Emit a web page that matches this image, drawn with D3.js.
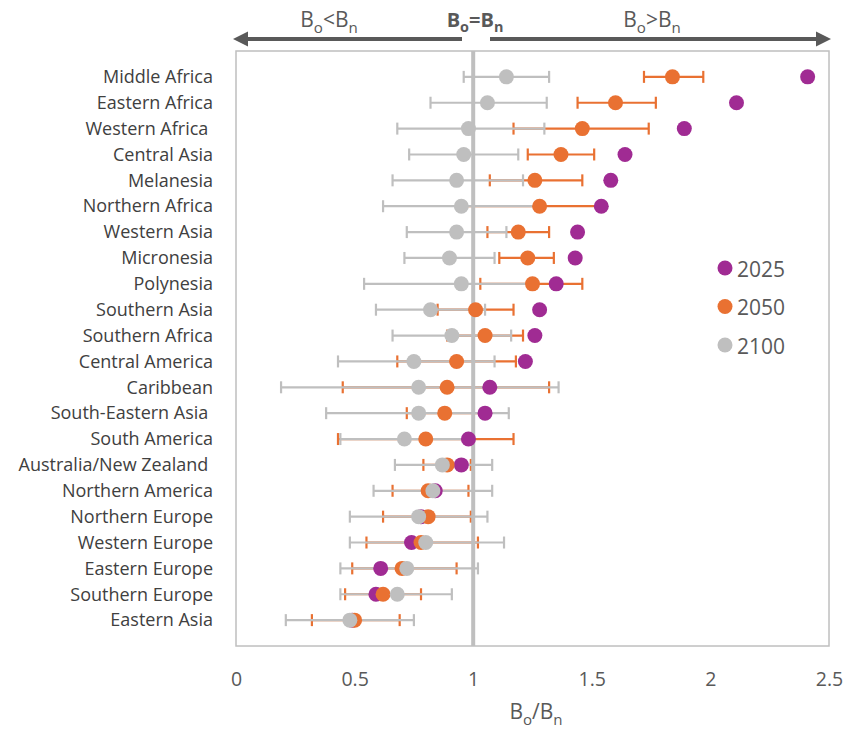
<!DOCTYPE html>
<html>
<head>
<meta charset="utf-8">
<script src="https://cdn.jsdelivr.net/npm/d3@7"></script>
<style>
  body { margin: 0; background: #fff; }
  svg text { font-family: "Open Sans", "Noto Sans", sans-serif; }
</style>
</head>
<body>
<div id="chart"></div>
<script>
// regions, top to bottom (trailing spaces are in the original labels)
var regions = ["Middle Africa", "Eastern Africa", "Western Africa ", "Central Asia", "Melanesia",
    "Northern Africa", "Western Asia", "Micronesia", "Polynesia", "Southern Asia", "Southern Africa",
    "Central America", "Caribbean", "South-Eastern Asia ", "South America", "Australia/New Zealand ",
    "Northern America", "Northern Europe", "Western Europe", "Eastern Europe", "Southern Europe", "Eastern Asia"];

var v2025 = [2.41, 2.11, 1.89, 1.64, 1.58, 1.54, 1.44, 1.43, 1.35, 1.28, 1.26,
    1.22, 1.07, 1.05, 0.98, 0.95, 0.84, 0.78, 0.74, 0.61, 0.59, 0.49];

var v2050 = [1.84, 1.60, 1.46, 1.37, 1.26, 1.28, 1.19, 1.23, 1.25, 1.01, 1.05,
    0.93, 0.89, 0.88, 0.80, 0.89, 0.81, 0.81, 0.78, 0.70, 0.62, 0.50];
var lo2050 = [1.72, 1.44, 1.17, 1.23, 1.07, 0.95, 1.06, 1.11, 1.03, 0.85, 0.89,
    0.68, 0.45, 0.72, 0.43, 0.79, 0.66, 0.62, 0.55, 0.49, 0.46, 0.32];
var hi2050 = [1.97, 1.77, 1.74, 1.51, 1.46, 1.55, 1.32, 1.34, 1.46, 1.17, 1.21,
    1.18, 1.32, 1.05, 1.17, 0.99, 0.98, 0.99, 1.02, 0.93, 0.78, 0.69];

var v2100 = [1.14, 1.06, 0.98, 0.96, 0.93, 0.95, 0.93, 0.90, 0.95, 0.82, 0.91,
    0.75, 0.77, 0.77, 0.71, 0.87, 0.83, 0.77, 0.80, 0.72, 0.68, 0.48];
var lo2100 = [0.96, 0.82, 0.68, 0.73, 0.66, 0.62, 0.72, 0.71, 0.54, 0.59, 0.66,
    0.43, 0.19, 0.38, 0.44, 0.67, 0.58, 0.48, 0.48, 0.44, 0.44, 0.21];
var hi2100 = [1.32, 1.31, 1.30, 1.19, 1.21, 1.28, 1.14, 1.09, 1.25, 1.05, 1.16,
    1.09, 1.36, 1.15, 0.97, 1.08, 1.08, 1.06, 1.13, 1.02, 0.91, 0.75];

var xTicks = [0, 0.5, 1, 1.5, 2, 2.5];
var years = ["2025", "2050", "2100"];

var colors = { "2025": "#A02B93", "2050": "#E97132", "2100": "#BFBFBF" };
var textColor = "#595959";

var width = 848, height = 733;
var plot = { left: 236, right: 829, top: 51, bottom: 646 };

var svg = d3.select("#chart").append("svg")
    .attr("width", width)
    .attr("height", height);

var x = d3.scaleLinear().domain([0, 2.5]).range([plot.left, plot.right]);
var y = d3.scalePoint().domain(regions).range([plot.top, plot.bottom]).padding(1);

// plot box
svg.append("rect")
    .attr("x", plot.left).attr("y", plot.top)
    .attr("width", plot.right - plot.left).attr("height", plot.bottom - plot.top)
    .attr("fill", "none").attr("stroke", "#BFBFBF").attr("stroke-width", 1.5);

// x axis
var xAxis = svg.append("g")
    .attr("transform", `translate(0,${plot.bottom})`)
    .call(d3.axisBottom(x).tickValues(xTicks).tickSize(0).tickPadding(26).tickFormat(d3.format("")));
xAxis.select(".domain").remove();
xAxis.selectAll("text").attr("fill", textColor).style("font-size", "19.5px");

// y axis (region names)
var yAxis = svg.append("g")
    .attr("transform", `translate(${plot.left},0)`)
    .call(d3.axisLeft(y).tickSize(0).tickPadding(23));
yAxis.select(".domain").remove();
yAxis.selectAll("text")
    .attr("fill", "#404040")
    .style("font-size", "18px")
    .style("white-space", "pre");

// error bars: orange first, gray drawn over it
function errorBars(lo, hi, color) {
    var g = svg.append("g").attr("stroke", color).attr("stroke-width", 2.2);
    regions.forEach(function(r, i) {
        g.append("line")
            .attr("x1", x(lo[i])).attr("x2", x(hi[i]))
            .attr("y1", y(r)).attr("y2", y(r));
        [lo[i], hi[i]].forEach(function(v) {
            g.append("line")
                .attr("x1", x(v)).attr("x2", x(v))
                .attr("y1", y(r) - 6).attr("y2", y(r) + 6);
        });
    });
}
errorBars(lo2050, hi2050, colors["2050"]);
errorBars(lo2100, hi2100, colors["2100"]);

// reference line at 1
svg.append("line")
    .attr("x1", x(1)).attr("x2", x(1))
    .attr("y1", plot.top).attr("y2", plot.bottom)
    .attr("stroke", "#BFBFBF").attr("stroke-width", 4);

// points
var series = { "2025": v2025, "2050": v2050, "2100": v2100 };
years.forEach(function(yr) {
    svg.append("g").selectAll("circle")
        .data(series[yr])
        .enter()
        .append("circle")
        .attr("cx", d => x(d))
        .attr("cy", (d, i) => y(regions[i]))
        .attr("r", 7.5)
        .attr("fill", colors[yr]);
});

// legend
var legend = svg.append("g");
years.forEach(function(yr, i) {
    var ly = 268 + i * 38.5;
    legend.append("circle").attr("cx", 725).attr("cy", ly).attr("r", 7.5).attr("fill", colors[yr]);
    legend.append("text").attr("x", 737).attr("y", ly + 8.5)
        .attr("fill", textColor).style("font-size", "21px").text(yr);
});

// B_o / B_n labels with subscripts
function bLabel(g, xc, yb, op, size, bold) {
    var t = g.append("text")
        .attr("x", xc).attr("y", yb)
        .attr("text-anchor", "middle")
        .attr("fill", textColor)
        .style("font-size", size + "px")
        .style("font-weight", bold ? "bold" : "normal");
    t.append("tspan").text("B");
    t.append("tspan").attr("dy", size * 0.27).style("font-size", (size * 0.72) + "px").text("o");
    t.append("tspan").attr("dy", -size * 0.27).text(op + "B");
    t.append("tspan").attr("dy", size * 0.27).style("font-size", (size * 0.72) + "px").text("n");
    return t;
}

var header = svg.append("g");
bLabel(header, 329, 27, "<", 21, false);
bLabel(header, 475, 27, "=", 20, true);
bLabel(header, 652, 27, ">", 21, false);

// arrows
var arrowY = 39;
header.append("line").attr("x1", 246).attr("x2", 462).attr("y1", arrowY).attr("y2", arrowY)
    .attr("stroke", "#595959").attr("stroke-width", 4);
header.append("path")
    .attr("d", `M233,${arrowY} L248,${arrowY - 7.5} L248,${arrowY + 7.5} Z`)
    .attr("fill", "#595959");
header.append("line").attr("x1", 490).attr("x2", 818).attr("y1", arrowY).attr("y2", arrowY)
    .attr("stroke", "#595959").attr("stroke-width", 4);
header.append("path")
    .attr("d", `M831,${arrowY} L816,${arrowY - 7.5} L816,${arrowY + 7.5} Z`)
    .attr("fill", "#595959");

// x axis title
bLabel(svg, 536, 719, "/", 21, false);
</script>
</body>
</html>
